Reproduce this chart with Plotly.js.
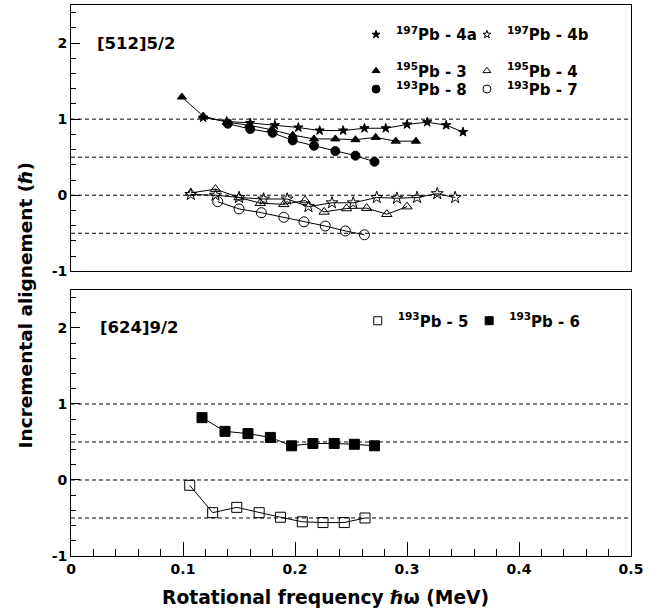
<!DOCTYPE html>
<html><head><meta charset="utf-8">
<script src="https://cdn.plot.ly/plotly-3.0.1.min.js"></script>
<style>html,body{margin:0;padding:0;background:#fff}#chart{width:661px;height:615px}</style>
</head><body><div id="chart"></div>
<script>
// ---- Data: upper panel [512]5/2 ----
const pb197_4a_x = [0.118, 0.139, 0.160, 0.182, 0.203, 0.222, 0.243, 0.262, 0.281, 0.300, 0.318, 0.335, 0.350];
const pb197_4a_y = [1.02, 0.97, 0.95, 0.92, 0.89, 0.85, 0.85, 0.88, 0.88, 0.93, 0.96, 0.92, 0.83];
const pb197_4b_x = [0.107, 0.129, 0.150, 0.172, 0.193, 0.212, 0.233, 0.252, 0.273, 0.291, 0.309, 0.327, 0.343];
const pb197_4b_y = [0.01, 0.00, -0.03, -0.05, -0.05, -0.15, -0.10, -0.10, -0.03, -0.04, -0.03, 0.02, -0.03];
const pb195_3_x = [0.099, 0.118, 0.139, 0.159, 0.179, 0.198, 0.217, 0.236, 0.254, 0.272, 0.290, 0.308];
const pb195_3_y = [1.29, 1.04, 0.96, 0.92, 0.86, 0.79, 0.74, 0.74, 0.73, 0.76, 0.71, 0.71];
const pb195_4_x = [0.107, 0.129, 0.150, 0.169, 0.190, 0.209, 0.226, 0.246, 0.264, 0.282, 0.300];
const pb195_4_y = [0.03, 0.08, -0.03, -0.105, -0.12, -0.07, -0.22, -0.175, -0.17, -0.25, -0.15];
const pb193_8_x = [0.140, 0.160, 0.180, 0.198, 0.217, 0.236, 0.254, 0.271];
const pb193_8_y = [0.94, 0.87, 0.82, 0.72, 0.65, 0.58, 0.52, 0.44];
const pb193_7_x = [0.131, 0.150, 0.170, 0.190, 0.208, 0.227, 0.245, 0.262];
const pb193_7_y = [-0.085, -0.18, -0.23, -0.29, -0.35, -0.405, -0.47, -0.52];
// ---- Data: lower panel [624]9/2 ----
const pb193_5_x = [0.106, 0.1265, 0.148, 0.168, 0.187, 0.2065, 0.225, 0.244, 0.2625];
const pb193_5_y = [-0.07, -0.43, -0.36, -0.43, -0.49, -0.55, -0.56, -0.56, -0.50];
const pb193_6_x = [0.117, 0.1375, 0.158, 0.178, 0.197, 0.216, 0.235, 0.253, 0.271];
const pb193_6_y = [0.82, 0.64, 0.61, 0.56, 0.45, 0.48, 0.48, 0.47, 0.45];

// ---- Labels ----
const names = {
  a4a: '<sup>197</sup>Pb - 4a', a4b: '<sup>197</sup>Pb - 4b',
  b3: '<sup>195</sup>Pb - 3', b4: '<sup>195</sup>Pb - 4',
  c8: '<sup>193</sup>Pb - 8', c7: '<sup>193</sup>Pb - 7',
  d5: '<sup>193</sup>Pb - 5', d6: '<sup>193</sup>Pb - 6'
};
const panelLabels = ['[512]5/2', '[624]9/2'];
const refLines = [1, 0.5, 0, -0.5];
const xTickVals = [0, 0.1, 0.2, 0.3, 0.4, 0.5];
const xTickText = ['0', '0.1', '0.2', '0.3', '0.4', '0.5'];
const yTickVals = [-1, 0, 1, 2];
const yTickText = ['-1', '0', '1', '2'];
const xTitle = 'Rotational frequency ℏω (MeV)';
const yTitle = 'Incremental alignement (ℏ)';

const BOLD = 'DejaVu Sans';
function series(x, y, sym, size, xa, ya) {
  return {x: x, y: y, xaxis: xa, yaxis: ya, type: 'scatter', mode: 'lines+markers', showlegend: false,
    line: {color: '#000', width: 1},
    marker: {symbol: sym, size: size, color: '#000', line: {color: '#000', width: 1}}};
}
function legendItem(name, sym, size, leg) {
  return {x: [null], y: [null], xaxis: 'x2', yaxis: 'y2', type: 'scatter', mode: 'markers', name: name,
    legend: leg, showlegend: true,
    marker: {symbol: sym, size: size, color: '#000', line: {color: '#000', width: 1}}};
}

const data = [
  series(pb197_4a_x, pb197_4a_y, 'star', 7, 'x2', 'y2'),
  series(pb197_4b_x, pb197_4b_y, 'star-open', 9, 'x2', 'y2'),
  series(pb195_3_x, pb195_3_y, 'triangle-up', 8, 'x2', 'y2'),
  series(pb195_4_x, pb195_4_y, 'triangle-up-open', 9, 'x2', 'y2'),
  series(pb193_8_x, pb193_8_y, 'circle', 9, 'x2', 'y2'),
  series(pb193_7_x, pb193_7_y, 'circle-open', 10, 'x2', 'y2'),
  series(pb193_5_x, pb193_5_y, 'square-open', 10, 'x', 'y'),
  series(pb193_6_x, pb193_6_y, 'square', 10, 'x', 'y'),
  legendItem(names.a4a, 'star', 6, 'legend'),
  legendItem(names.a4b, 'star-open', 6, 'legend2'),
  legendItem(names.b3, 'triangle-up', 7, 'legend3'),
  legendItem(names.b4, 'triangle-up-open', 7, 'legend4'),
  legendItem(names.c8, 'circle', 8, 'legend5'),
  legendItem(names.c7, 'circle-open', 8, 'legend6'),
  legendItem(names.d5, 'square-open', 8, 'legend7'),
  legendItem(names.d6, 'square', 8, 'legend8')
];

const tickFont = {family: BOLD, size: 14, color: '#000', weight: 'bold'};
function xAxis(showLabels, anchor) {
  return {range: [0, 0.5], anchor: anchor, showgrid: false, zeroline: false,
    showline: true, linecolor: '#000', linewidth: 1, mirror: true,
    ticks: 'inside', ticklen: 14, tickwidth: 1, tickcolor: '#000',
    tickmode: 'array', tickvals: xTickVals, ticktext: xTickText, showticklabels: showLabels,
    tickfont: tickFont,
    minor: {dtick: 0.02, tick0: 0, ticks: 'inside', ticklen: 7, tickcolor: '#000', tickwidth: 1, showgrid: false}};
}
function yAxis(domain, anchor) {
  return {range: [-1, 2.5], domain: domain, anchor: anchor, showgrid: false, zeroline: false,
    showline: true, linecolor: '#000', linewidth: 1, mirror: true,
    ticks: 'inside', ticklen: 9, tickwidth: 1, tickcolor: '#000',
    tickmode: 'array', tickvals: yTickVals, ticktext: yTickText,
    tickfont: tickFont,
    minor: {dtick: 0.2, tick0: 0, ticks: 'inside', ticklen: 5, tickcolor: '#000', tickwidth: 1, showgrid: false}};
}

const shapes = [];
refLines.forEach(v => {
  ['y', 'y2'].forEach(ya => {
    shapes.push({type: 'line', xref: ya === 'y' ? 'x domain' : 'x2 domain', yref: ya, x0: 0, x1: 1, y0: v, y1: v,
      line: {color: '#000', width: 1, dash: '4px,3px'}, layer: 'below'});
  });
});

const legFont = {family: BOLD, size: 15, color: '#000', weight: 'bold'};
function leg(x, y) {
  return {x: x, y: y, xanchor: 'left', yanchor: 'middle', orientation: 'h', bgcolor: 'rgba(0,0,0,0)',
    font: legFont, itemclick: false, itemdoubleclick: false, borderwidth: 0};
}

const layout = {
  width: 661, height: 615,
  margin: {l: 71, r: 30, t: 5, b: 59},
  paper_bgcolor: '#fff', plot_bgcolor: '#fff',
  showlegend: true,
  xaxis: xAxis(true, 'y'),
  yaxis: yAxis([0, 0.4828], 'x'),
  xaxis2: Object.assign(xAxis(false, 'y2'), {ticks: '', minor: {ticks: ''}}),
  yaxis2: yAxis([0.5167, 1], 'x2'),
  legend: leg(0.509, 0.946),
  legend2: leg(0.707, 0.946),
  legend3: leg(0.509, 0.880),
  legend4: leg(0.707, 0.880),
  legend5: leg(0.509, 0.847),
  legend6: leg(0.707, 0.847),
  legend7: leg(0.512, 0.4265),
  legend8: leg(0.711, 0.4265),
  shapes: shapes,
  annotations: [
    {text: panelLabels[0], xref: 'x2 domain', yref: 'y2', x: 0.043, y: 2, xanchor: 'left', yanchor: 'middle',
      showarrow: false, font: {family: BOLD, size: 16.5, color: '#000', weight: 'bold'}},
    {text: panelLabels[1], xref: 'x domain', yref: 'y', x: 0.048, y: 2, xanchor: 'left', yanchor: 'middle',
      showarrow: false, font: {family: BOLD, size: 16.5, color: '#000', weight: 'bold'}},
    {text: xTitle, xref: 'paper', yref: 'paper', x: 0.4536, y: -0.076, xanchor: 'center', yanchor: 'middle',
      showarrow: false, font: {family: BOLD, size: 18.7, color: '#000', weight: 'bold'}},
    {text: yTitle, xref: 'paper', yref: 'paper', x: -0.082, y: 0.455, xanchor: 'center', yanchor: 'middle',
      textangle: -90, showarrow: false, font: {family: BOLD, size: 18.5, color: '#000', weight: 'bold'}}
  ]
};

Plotly.newPlot('chart', data, layout, {displayModeBar: false, staticPlot: true});
</script></body></html>
